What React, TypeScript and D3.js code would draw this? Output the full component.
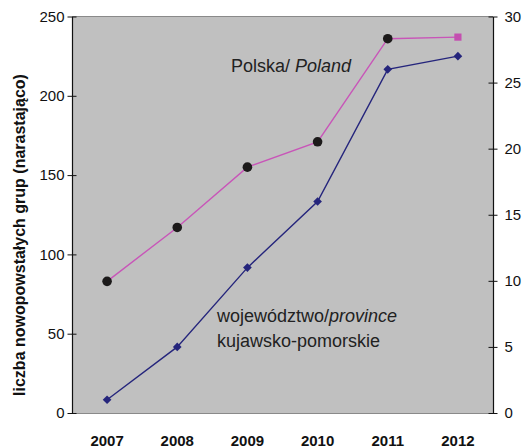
import { useEffect, useRef } from 'react';
import * as d3 from 'd3';

const years = ['2007', '2008', '2009', '2010', '2011', '2012'];
// cumulative number of groups - Poland (left axis)
const polskaValues = [83, 117, 155, 171, 236, 237];
// province kujawsko-pomorskie (right axis)
const provinceValues = [1, 5, 11, 16, 26, 27];
const leftTicks = [0, 50, 100, 150, 200, 250];
const rightTicks = [0, 5, 10, 15, 20, 25, 30];

export default function App() {
  const svgRef = useRef<SVGSVGElement>(null);

  useEffect(() => {
    if (!svgRef.current) return;
    const width = 524;
    const height = 448;
    const margin = { top: 16.5, right: 31, bottom: 35, left: 72 };

    const svg = d3.select(svgRef.current);
    svg.selectAll('*').remove();

    const x = d3.scaleBand<string>()
      .domain(years)
      .range([margin.left, width - margin.right]);
    const yLeft = d3.scaleLinear().domain([0, 250]).range([height - margin.bottom, margin.top]);
    const yRight = d3.scaleLinear().domain([0, 30]).range([height - margin.bottom, margin.top]);

    const font = 'Liberation Sans, Arial, sans-serif';

    // plot background
    svg.append('rect')
      .attr('x', margin.left)
      .attr('y', margin.top)
      .attr('width', width - margin.left - margin.right)
      .attr('height', height - margin.top - margin.bottom)
      .attr('fill', '#c0c0c0');

    svg.append('line')
      .attr('x1', margin.left).attr('x2', width - margin.right)
      .attr('y1', margin.top).attr('y2', margin.top)
      .attr('stroke', '#8a8a8a').attr('stroke-width', 1.2);

    // bottom axis (no ticks, bold years)
    const xAxis = svg.append('g')
      .attr('transform', `translate(0,${height - margin.bottom})`)
      .call(d3.axisBottom(x).tickSize(0).tickPadding(22));
    xAxis.select('.domain').attr('stroke', '#8a8a8a').attr('stroke-width', 1.2);
    xAxis.selectAll('text')
      .attr('font-family', font).attr('font-size', 15).attr('font-weight', 'bold').attr('fill', '#111');

    // left axis
    const lAxis = svg.append('g')
      .attr('transform', `translate(${margin.left},0)`)
      .call(d3.axisLeft(yLeft).tickValues(leftTicks).tickSize(4.5).tickSizeOuter(0).tickPadding(3));
    lAxis.select('.domain').attr('stroke', '#111').attr('stroke-width', 1.2);
    lAxis.selectAll('.tick line').attr('x2', 4.5).attr('x1', -4.5).attr('stroke', '#111');
    lAxis.selectAll('text').attr('font-family', font).attr('font-size', 15).attr('fill', '#111');

    // right axis
    const rAxis = svg.append('g')
      .attr('transform', `translate(${width - margin.right},0)`)
      .call(d3.axisRight(yRight).tickValues(rightTicks).tickSize(4.5).tickSizeOuter(0).tickPadding(7));
    rAxis.select('.domain').attr('stroke', '#111').attr('stroke-width', 1.2);
    rAxis.selectAll('.tick line').attr('x1', -4.5).attr('x2', 4.5).attr('stroke', '#111');
    rAxis.selectAll('text').attr('font-family', font).attr('font-size', 15).attr('fill', '#111');

    svg.append('text')
      .attr('transform', `translate(25,235) rotate(-90)`)
      .attr('text-anchor', 'middle')
      .attr('font-family', font)
      .attr('font-size', 16)
      .attr('font-weight', 'bold')
      .attr('fill', '#111')
      .text('liczba nowopowstałych grup (narastająco)');

    const cx = (d: string) => (x(d) ?? 0) + x.bandwidth() / 2;

    // Poland line
    const polska = years.map((y, i) => ({ year: y, v: polskaValues[i] }));
    svg.append('path')
      .datum(polska)
      .attr('fill', 'none')
      .attr('stroke', '#c855b8')
      .attr('stroke-width', 1.4)
      .attr('d', d3.line<{ year: string; v: number }>().x(d => cx(d.year)).y(d => yLeft(d.v)));

    svg.selectAll('.pl-dot')
      .data(polska.slice(0, 5))
      .join('circle')
      .attr('cx', d => cx(d.year))
      .attr('cy', d => yLeft(d.v))
      .attr('r', 4.8)
      .attr('fill', '#1c1a1a');

    const last = polska[polska.length - 1];
    svg.append('rect')
      .attr('x', cx(last.year) - 3.6)
      .attr('y', yLeft(last.v) - 3.6)
      .attr('width', 7.2)
      .attr('height', 7.2)
      .attr('fill', '#c44fb0');

    // province line
    const prov = years.map((y, i) => ({ year: y, v: provinceValues[i] }));
    svg.append('path')
      .datum(prov)
      .attr('fill', 'none')
      .attr('stroke', '#25257c')
      .attr('stroke-width', 1.4)
      .attr('d', d3.line<{ year: string; v: number }>().x(d => cx(d.year)).y(d => yRight(d.v)));

    svg.selectAll('.pr-dot')
      .data(prov)
      .join('path')
      .attr('transform', d => `translate(${cx(d.year)},${yRight(d.v)})`)
      .attr('d', d3.symbol(d3.symbolDiamond2, 48)())
      .attr('fill', '#25257c');

    // annotations
    const t1 = svg.append('text')
      .attr('x', 231).attr('y', 72)
      .attr('font-family', font).attr('font-size', 18).attr('fill', '#222');
    t1.append('tspan').text('Polska/ ');
    t1.append('tspan').attr('font-style', 'italic').text('Poland');

    const t2 = svg.append('text')
      .attr('x', 217).attr('y', 322)
      .attr('font-family', font).attr('font-size', 18).attr('fill', '#222');
    t2.append('tspan').text('województwo/');
    t2.append('tspan').attr('font-style', 'italic').text('province');

    svg.append('text')
      .attr('x', 217).attr('y', 347)
      .attr('font-family', font).attr('font-size', 18).attr('fill', '#222')
      .text('kujawsko-pomorskie');
  }, []);

  return (
    <div style={{ position: 'absolute', left: 0, top: 0, background: '#fff' }}>
      <svg ref={svgRef} width={524} height={448} style={{ display: 'block' }}></svg>
    </div>
  );
}
